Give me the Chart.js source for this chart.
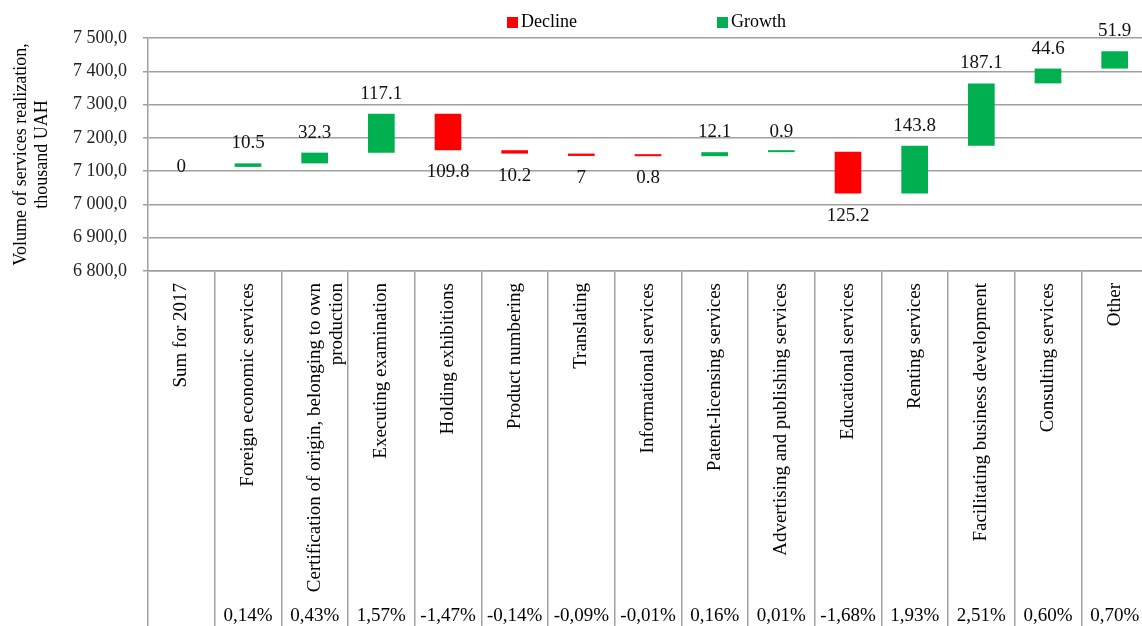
<!DOCTYPE html>
<html lang="en">
<head>
    <meta charset="UTF-8">
    <title>Volume of services realization - waterfall</title>
    <script src="https://cdn.jsdelivr.net/npm/chart.js@4.4.0/dist/chart.umd.min.js"></script>
    <style>
        body { margin: 0; overflow: hidden; background: #fff; }
        .wrap { position: relative; width: 1150px; height: 626px; }
        .legend-item {
            position: absolute; top: 10px;
            font: 18px 'Liberation Serif', serif; color: #000; line-height: 22px;
        }
        .legend-item i {
            display: inline-block; width: 11px; height: 11px;
            margin-right: 3px; vertical-align: -1px;
        }
    </style>
</head>
<body>
    <div class="wrap">
        <canvas id="waterfall"></canvas>
        <!-- Legend -->
        <div class="legend-item" style="left:507px"><i id="declineBox"></i>Decline</div>
        <div class="legend-item" style="left:717px"><i id="growthBox"></i>Growth</div>
    </div>

    <script>
        const categories = [
            'Sum for 2017',
            'Foreign economic services',
            ['Certification of origin, belonging to own', 'production'],
            'Executing examination',
            'Holding exhibitions',
            'Product numbering',
            'Translating',
            'Informational services',
            'Patent-licensing services',
            'Advertising and publishing services',
            'Educational services',
            'Renting services',
            'Facilitating business development',
            'Consulting services',
            'Other'
        ];
        const changes = [0, 10.5, 32.3, 117.1, -109.8, -10.2, -7, -0.8, 12.1, 0.9, -125.2, 143.8, 187.1, 44.6, 51.9];
        const shares = ['', '0,14%', '0,43%', '1,57%', '-1,47%', '-0,14%', '-0,09%', '-0,01%', '0,16%', '0,01%', '-1,68%', '1,93%', '2,51%', '0,60%', '0,70%'];
        const startValue = 7112.8;
        const yMin = 6800;
        const yMax = 7500;
        const yStep = 100;

        const DECLINE = '#ff0000';
        const GROWTH = '#00b050';
        const GRID = '#a0a0a0';
        const FONT = "'Liberation Serif', 'Times New Roman', serif";

        document.getElementById('declineBox').style.background = DECLINE;
        document.getElementById('growthBox').style.background = GROWTH;

        // running total -> floating bar ranges
        const ranges = [];
        let level = startValue;
        changes.forEach(v => {
            ranges.push([level, level + v]);
            level += v;
        });
        const declineData = ranges.map((r, i) => changes[i] < 0 ? r : null);
        const growthData = ranges.map((r, i) => changes[i] > 0 ? r : null);

        // value labels above growth bars, below decline bars
        const valueLabels = {
            id: 'valueLabels',
            afterDatasetsDraw(chart) {
                const { ctx, scales: { x, y } } = chart;
                ctx.save();
                ctx.font = '19px ' + FONT;
                ctx.fillStyle = '#111';
                ctx.textAlign = 'center';
                ctx.textBaseline = 'middle';
                ranges.forEach((r, i) => {
                    const v = changes[i];
                    const px = x.getPixelForValue(i);
                    let py;
                    if (v > 0) py = y.getPixelForValue(Math.max(r[0], r[1])) - 20;
                    else if (v < 0) py = y.getPixelForValue(Math.min(r[0], r[1])) + 22;
                    else py = y.getPixelForValue(r[0]);
                    ctx.fillText(String(Math.abs(v)), px, py);
                });
                ctx.restore();
            }
        };

        const ctx = document.getElementById('waterfall').getContext('2d');
        new Chart(ctx, {
            type: 'bar',
            data: {
                labels: categories,
                datasets: [
                    {
                        label: 'Decline',
                        data: declineData,
                        backgroundColor: DECLINE,
                        grouped: false,
                        barPercentage: 0.5,
                        categoryPercentage: 0.8,
                        minBarLength: 2,
                        xAxisID: 'x',
                        yAxisID: 'y'
                    },
                    {
                        label: 'Growth',
                        data: growthData,
                        backgroundColor: GROWTH,
                        grouped: false,
                        barPercentage: 0.5,
                        categoryPercentage: 0.8,
                        minBarLength: 2,
                        xAxisID: 'x',
                        yAxisID: 'y'
                    }
                ]
            },
            options: {
                responsive: true,
                maintainAspectRatio: false,
                animation: false,
                layout: { padding: { top: 38, right: 2, bottom: 0, left: 0 } },
                plugins: {
                    legend: { display: false },
                    tooltip: { enabled: false }
                },
                scales: {
                    x: {
                        type: 'category',
                        offset: true,
                        grid: { offset: true, drawOnChartArea: false, tickLength: 330, color: GRID, lineWidth: 1.5 },
                        border: { display: true, color: GRID, width: 1.5 },
                        ticks: {
                            autoSkip: false,
                            minRotation: 90,
                            maxRotation: 90,
                            padding: -318,
                            color: '#000',
                            font: { family: FONT, size: 19 }
                        },
                        afterFit: s => { s.height = 330; }
                    },
                    x2: {
                        type: 'category',
                        labels: shares,
                        position: 'bottom',
                        weight: 1,
                        offset: true,
                        grid: { offset: true, drawOnChartArea: false, tickLength: 25, color: GRID, lineWidth: 1.5 },
                        border: { display: false },
                        ticks: {
                            autoSkip: false,
                            maxRotation: 0,
                            padding: -21,
                            color: '#000',
                            font: { family: FONT, size: 19 }
                        },
                        afterFit: s => { s.height = 25; }
                    },
                    y: {
                        min: yMin,
                        max: yMax,
                        grid: { color: GRID, lineWidth: 1.5, tickLength: 5 },
                        border: { color: GRID, width: 1.5 },
                        ticks: {
                            stepSize: yStep,
                            padding: 16,
                            color: '#222',
                            font: { family: FONT, size: 18 },
                            callback: v => {
                                const s = v.toFixed(1).replace('.', ',');
                                return s.slice(0, -5) + ' ' + s.slice(-5);
                            }
                        },
                        title: {
                            display: true,
                            text: ['Volume of services realization,', 'thousand UAH'],
                            color: '#000',
                            font: { family: FONT, size: 18, lineHeight: 1.2 },
                            padding: { top: 10, bottom: 0 }
                        },
                        afterFit: s => { s.width = 148; }
                    }
                }
            },
            plugins: [valueLabels]
        });
    </script>
</body>
</html>
